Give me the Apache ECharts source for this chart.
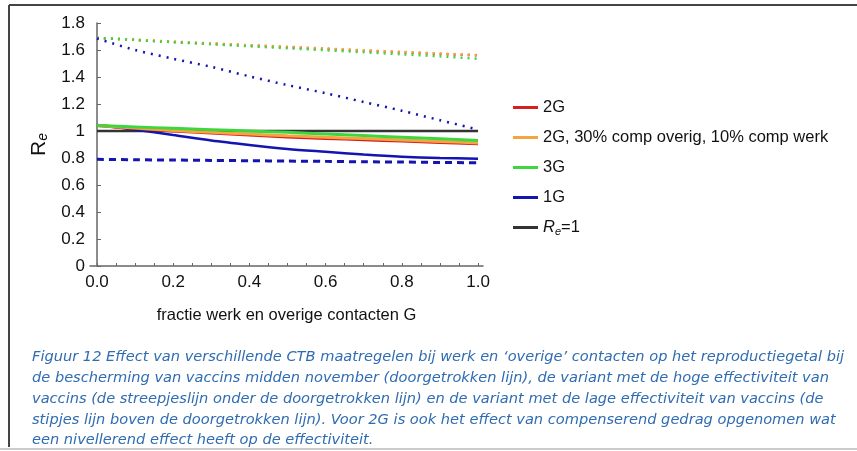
<!DOCTYPE html>
<html>
<head>
<meta charset="utf-8">
<script src="https://cdn.jsdelivr.net/npm/echarts@6/dist/echarts.min.js"></script>
<style>
  html, body { margin: 0; padding: 0; background: #fff; }
  #chart { width: 857px; height: 451px; }
</style>
</head>
<body>
<div id="chart"></div>
<script>
// fractie G
const xs = [0, 0.1, 0.2, 0.3, 0.4, 0.5, 0.6, 0.7, 0.8, 0.9, 1.0];

// doorgetrokken lijn (bescherming midden november)
const red2G = [1.04, 1.02, 1.0, 0.985, 0.97, 0.955, 0.945, 0.935, 0.925, 0.915, 0.905];
const orange2Gcomp = [1.04, 1.022, 1.004, 0.99, 0.977, 0.965, 0.954, 0.944, 0.934, 0.923, 0.912];
const green3G = [1.04, 1.03, 1.02, 1.01, 1.0, 0.99, 0.978, 0.966, 0.954, 0.942, 0.93];
const blue1G = [1.045, 1.01, 0.97, 0.93, 0.897, 0.867, 0.846, 0.826, 0.81, 0.8, 0.795];
const reOne = [1, 1, 1, 1, 1, 1, 1, 1, 1, 1, 1];

// streepjeslijn (hoge effectiviteit)
const blue1GHigh = [0.79, 0.787, 0.785, 0.782, 0.78, 0.777, 0.775, 0.772, 0.77, 0.767, 0.765];

// stipjes lijn (lage effectiviteit)
const red2GLow = [1.69, 1.675, 1.66, 1.647, 1.634, 1.621, 1.608, 1.595, 1.583, 1.571, 1.56];
const orange2GLow = [1.69, 1.676, 1.662, 1.649, 1.636, 1.624, 1.611, 1.598, 1.586, 1.574, 1.562];
const green3GLow = [1.69, 1.674, 1.658, 1.643, 1.628, 1.613, 1.598, 1.583, 1.568, 1.553, 1.535];
const blue1GLow = [1.685, 1.6, 1.535, 1.475, 1.405, 1.34, 1.28, 1.215, 1.15, 1.08, 1.01];

const xLabels = [0, 0.2, 0.4, 0.6, 0.8, 1.0];
const xTicks = [0, 0.05, 0.1, 0.15, 0.2, 0.25, 0.3, 0.35, 0.4, 0.45, 0.5, 0.55, 0.6, 0.65, 0.7, 0.75, 0.8, 0.85, 0.9, 0.95, 1.0];

const captionLines = [
  "Figuur 12 Effect van verschillende CTB maatregelen bij werk en \u2018overige\u2019 contacten op het reproductiegetal bij",
  "de bescherming van vaccins midden november (doorgetrokken lijn), de variant met de hoge effectiviteit van",
  "vaccins (de streepjeslijn onder de doorgetrokken lijn) en de variant met de lage effectiviteit van vaccins (de",
  "stipjes lijn boven de doorgetrokken lijn). Voor 2G is ook het effect van compenserend gedrag opgenomen wat",
  "een nivellerend effect heeft op de effectiviteit."
];

const RED = "#d81e1e", ORANGE = "#f2a541", GREEN = "#3ed63e", BLUE = "#1414b0", BLACK = "#333";

function pairs(ys) {
  return xs.map((x, i) => [x, ys[i]]);
}

function line(name, ys, color, width, type) {
  return {
    name: name,
    type: "line",
    data: pairs(ys),
    showSymbol: false,
    smooth: 0.3,
    lineStyle: { color: color, width: width, type: type || "solid" },
    itemStyle: { color: color }
  };
}

const chart = echarts.init(document.getElementById("chart"));
chart.setOption({
  animation: false,
  backgroundColor: "#fff",
  textStyle: { fontFamily: "Liberation Sans, Arial, sans-serif" },
  title: {
    text: captionLines.join("\n"),
    left: 27,
    top: 342,
    textStyle: {
      fontFamily: "DejaVu Sans",
      fontStyle: "italic",
      fontWeight: "normal",
      fontSize: 14.6,
      lineHeight: 20.8,
      color: "#2f6cb2"
    }
  },
  graphic: [
    { type: "line", shape: { x1: 9, y1: 5, x2: 857, y2: 5 }, style: { stroke: "#444", lineWidth: 2 } },
    { type: "line", shape: { x1: 9, y1: 5, x2: 9, y2: 447 }, style: { stroke: "#444", lineWidth: 2 } },
    { type: "line", shape: { x1: 0, y1: 449, x2: 857, y2: 449 }, style: { stroke: "#ccc", lineWidth: 2 } }
  ],
  legend: {
    orient: "vertical",
    left: 508,
    top: 93,
    icon: "rect",
    itemWidth: 25,
    itemHeight: 3,
    itemGap: 11,
    data: [
      { name: "2G", itemStyle: { color: RED } },
      { name: "2G, 30% comp overig, 10% comp werk", itemStyle: { color: ORANGE } },
      { name: "3G", itemStyle: { color: GREEN } },
      { name: "1G", itemStyle: { color: BLUE } },
      { name: "Re=1", itemStyle: { color: BLACK } }
    ],
    formatter: function (name) {
      return name === "Re=1" ? "{i|R}{s|e}{n|=1}" : name;
    },
    textStyle: {
      fontSize: 16.5,
      color: "#111",
      lineHeight: 19,
      rich: {
        i: { fontSize: 16.5, fontStyle: "italic", color: "#111" },
        s: { fontSize: 11, fontStyle: "italic", color: "#111", verticalAlign: "bottom", padding: [6, 0, 0, 0] },
        n: { fontSize: 16.5, color: "#111" }
      }
    }
  },
  grid: { left: 90, right: 374, top: 23, bottom: 185 },
  xAxis: {
    type: "value",
    min: -0.0184,
    max: 1.013,
    name: "fractie werk en overige contacten G",
    nameLocation: "middle",
    nameGap: 41,
    nameTextStyle: { fontSize: 16.5, color: "#111" },
    axisLine: { lineStyle: { color: "#666", width: 1.5 } },
    axisTick: { inside: true, length: 3, customValues: xTicks, lineStyle: { color: "#666" } },
    axisLabel: {
      customValues: xLabels,
      fontSize: 17,
      color: "#111",
      margin: 8,
      formatter: v => v.toFixed(1)
    },
    splitLine: { show: false }
  },
  yAxis: {
    type: "value",
    min: 0,
    max: 1.8,
    interval: 0.2,
    name: "{r|R}{e|e}",
    nameLocation: "middle",
    nameGap: 40,
    nameRotate: 90,
    nameTextStyle: {
      rich: {
        r: { fontSize: 21, color: "#111" },
        e: { fontSize: 14, fontStyle: "italic", color: "#111", verticalAlign: "bottom", padding: [8, 0, 0, 0] }
      }
    },
    axisLine: { show: true, lineStyle: { color: "#666", width: 1.5 } },
    axisTick: { show: true, inside: true, length: 4, lineStyle: { color: "#666" } },
    axisLabel: {
      fontSize: 17,
      color: "#111",
      margin: 5,
      formatter: v => String(Math.round(v * 10) / 10)
    },
    splitLine: { show: false }
  },
  series: [
    line("2G-laag", red2GLow, RED, 2.5, [2, 5]),
    line("2Gcomp-laag", orange2GLow, ORANGE, 2.5, [2, 5]),
    line("3G-laag", green3GLow, GREEN, 2.5, [2, 5]),
    line("1G-laag", blue1GLow, BLUE, 2.5, [2, 6]),
    line("1G-hoog", blue1GHigh, BLUE, 3, [7, 5]),
    line("Re=1", reOne, BLACK, 2.5),
    line("1G", blue1G, BLUE, 2.5),
    line("2G", red2G, RED, 3),
    line("2G, 30% comp overig, 10% comp werk", orange2Gcomp, ORANGE, 3),
    line("3G", green3G, GREEN, 3)
  ]
});
</script>
</body>
</html>
